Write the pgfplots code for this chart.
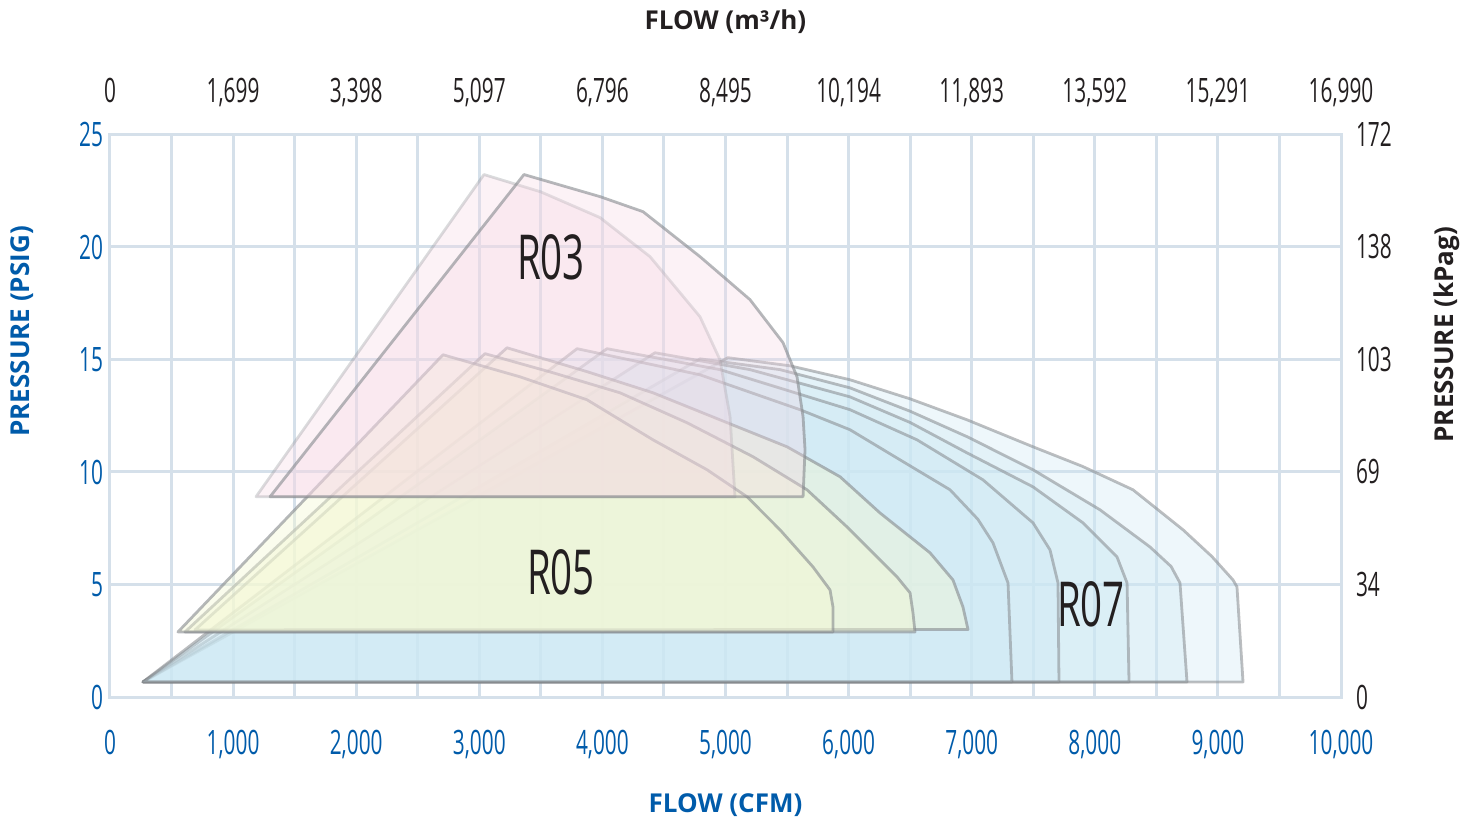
\documentclass[border=0pt]{standalone}
\usepackage{pgfplots}
\pgfplotsset{compat=1.18}
\usepackage{fontspec}
\setmainfont{Open Sans}
\newfontfamily\condf[FakeStretch=0.62]{Open Sans}

\definecolor{gridc}{HTML}{D5E0EA}
\definecolor{flowblue}{HTML}{005BAA}
\definecolor{r07fill}{HTML}{CDE8F3}
\definecolor{r05fill}{HTML}{F4F8D6}
\definecolor{r03fill}{HTML}{F5D7E4}
\definecolor{edge}{HTML}{85898D}
\definecolor{ink}{HTML}{231F20}

\pgfplotsset{
  base/.style={
    width=615.5pt, height=281.25pt, scale only axis,
    xmin=0, xmax=10000, ymin=0, ymax=25,
    scaled ticks=false,
    xtick={0,1000,...,10000}, ytick={0,5,...,25},
    major tick length=0pt, minor tick length=0pt,
    tick label style={font=\condf\fontsize{16.8}{18}\selectfont},
  },
  r07/.style={fill=r07fill, fill opacity=0.34, draw=edge, draw opacity=0.55, line width=1.4pt, line join=round},
  r05/.style={fill=r05fill, fill opacity=0.45, draw=edge, draw opacity=0.6, line width=1.4pt, line join=round},
  r03/.style={fill=r03fill, fill opacity=0.32, draw=edge, draw opacity=0.6, line width=1.4pt, line join=round},
}

\begin{document}
\begin{tikzpicture}
\useasboundingbox (-55pt,-61pt) rectangle (683.5pt,348.5pt);

% main axis: CFM / PSIG
\begin{axis}[
  base,
  grid=both, minor x tick num=1,
  grid style={draw=gridc, line width=1.5pt},
  minor grid style={draw=gridc, line width=1.5pt},
  axis line style={draw=gridc, line width=1.5pt},
  xticklabels={0,{1,000},{2,000},{3,000},{4,000},{5,000},{6,000},{7,000},{8,000},{9,000},{10,000}},
  yticklabels={0,5,10,15,20,25},
  xticklabel style={anchor=base, yshift=-28.5pt, text=flowblue},
  yticklabel style={text=flowblue},
  xlabel={FLOW (CFM)},
  xlabel style={font=\bfseries\fontsize{13}{15}\selectfont, text=flowblue,
    at={(axis description cs:0.5,-0.192)}, anchor=center},
  ylabel={PRESSURE (PSIG)},
  ylabel style={font=\bfseries\fontsize{13}{15}\selectfont, text=flowblue,
    at={(axis description cs:-0.0715,0.65)}, anchor=center, rotate=0},
]

% R07 family
\addplot[r07] coordinates {(268,0.67) (5020,15.08) (5524,14.72) (6011,14.10) (6500,13.25) (6962,12.32) (7498,11.12) (7900,10.25) (8310,9.21) (8717,7.43) (8950,6.25) (9123,5.20) (9155,4.89) (9204,0.67)} -- cycle;
\addplot[r07] coordinates {(268,0.67) (4793,15.03) (5443,14.55) (6011,13.74) (6500,12.70) (6962,11.57) (7498,10.10) (8042,8.32) (8448,6.67) (8620,5.80) (8692,5.07) (8749,0.67)} -- cycle;
\addplot[r07] coordinates {(268,0.67) (4427,15.30) (5199,14.55) (6011,13.34) (6500,12.20) (6962,10.85) (7498,9.34) (7904,7.74) (8180,6.23) (8262,5.07) (8278,0.67)} -- cycle;
\addplot[r07] coordinates {(268,0.67) (4037,15.48) (4955,14.55) (6011,12.77) (6556,11.43) (7092,9.65) (7498,7.74) (7636,6.54) (7701,5.07) (7709,0.67)} -- cycle;
\addplot[r07] coordinates {(268,0.67) (3794,15.48) (4793,14.32) (5605,12.77) (6011,11.88) (6418,10.54) (6824,9.21) (7050,7.90) (7173,6.85) (7295,5.07) (7327,0.67)} -- cycle;

% R05 family
\addplot[r05] coordinates {(690,2.98) (3225,15.52) (3875,14.46) (4411,13.52) (4955,12.32) (5500,11.12) (5930,9.79) (6255,8.18) (6661,6.41) (6848,5.20) (6929,4.00) (6970,3.00)} -- cycle;
\addplot[r05] coordinates {(609,2.89) (3046,15.26) (3599,14.41) (4143,13.52) (4687,12.19) (5223,10.68) (5662,9.21) (5987,7.56) (6393,5.34) (6499,4.63) (6523,3.74) (6539,2.89)} -- cycle;
\addplot[r05] coordinates {(552,2.89) (2705,15.21) (3331,14.23) (3875,13.21) (4411,11.43) (4850,10.10) (5175,8.90) (5443,7.43) (5711,5.78) (5849,4.76) (5873,4.00) (5873,2.89)} -- cycle;

% R03 family
\addplot[r03, draw opacity=0.3] coordinates {(1186,8.90) (3038,23.22) (3500,22.45) (3980,21.31) (4387,19.57) (4793,16.90) (4955,14.99) (5037,12.46) (5077,8.90)} -- cycle;
\addplot[r03] coordinates {(1300,8.90) (3363,23.22) (3980,22.24) (4330,21.57) (4793,19.57) (5199,17.66) (5467,15.75) (5581,14.23) (5630,12.46) (5646,10.99) (5630,8.90)} -- cycle;

\node[text=ink, font=\condf\fontsize{31}{31}\selectfont] at (axis cs:3582,19.53) {R03};
\node[text=ink, font=\condf\fontsize{31}{31}\selectfont] at (axis cs:3664,5.56) {R05};
\node[text=ink, font=\condf\fontsize{31}{31}\selectfont] at (axis cs:7969,4.14) {R07};
\end{axis}

% overlay axis: m3/h on top, kPag on the right
\begin{axis}[
  base,
  axis x line*=top, axis y line*=right,
  axis line style={draw=none},
  xticklabels={0,{1,699},{3,398},{5,097},{6,796},{8,495},{10,194},{11,893},{13,592},{15,291},{16,990}},
  yticklabels={0,34,69,103,138,172},
  xticklabel style={anchor=base, yshift=16pt, text=ink},
  yticklabel style={xshift=4pt, text=ink},
  xlabel={FLOW (m³/h)},
  xlabel style={font=\bfseries\fontsize{13}{15}\selectfont, text=ink,
    at={(axis description cs:0.5,1.2009)}, anchor=center},
  ylabel={PRESSURE (kPag)},
  ylabel style={font=\bfseries\fontsize{13}{15}\selectfont, text=ink,
    at={(axis description cs:1.0861,0.644)}, anchor=center, rotate=0},
]
\end{axis}
\end{tikzpicture}
\end{document}
